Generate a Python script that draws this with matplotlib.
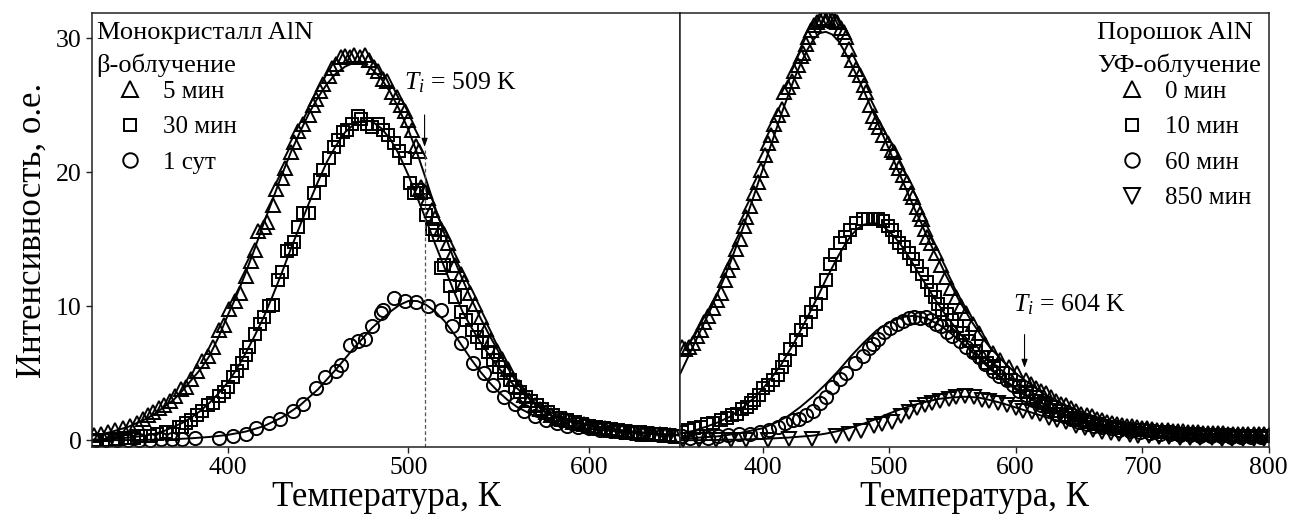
import numpy as np
import matplotlib
matplotlib.use('Agg')
import matplotlib.pyplot as plt

plt.rcParams['font.family'] = ['Liberation Serif', 'DejaVu Serif']
plt.rcParams['mathtext.fontset'] = 'custom'
plt.rcParams['mathtext.rm'] = 'Liberation Serif'
plt.rcParams['mathtext.it'] = 'Liberation Serif:italic'

# ---- Left panel: single crystal AlN, beta irradiation ----
# 5 min (triangles)
t5_T = [326, 330, 334, 338, 342, 346, 350, 353, 356, 359, 362, 365, 368, 371, 374, 377, 380, 383, 386, 389,
        392, 395, 398, 401, 404, 407, 410, 413, 415, 417, 420, 422, 425, 427, 430, 432, 435, 437, 439, 442,
        445, 447, 449, 451, 453, 456, 458, 460, 463, 465, 468, 470, 473, 476, 478, 481, 483, 486, 488, 491,
        494, 496, 498, 500, 502, 504, 506, 507, 509, 511, 513, 515, 518, 520, 522, 524, 526, 529, 531, 534,
        537, 540, 543, 546, 549, 552, 555, 558, 561, 564, 567, 570, 573, 576, 579, 582, 585, 588, 591, 594,
        597, 600, 603, 606, 609, 612, 615, 618, 621, 624, 627, 630, 633, 636, 639, 642, 645, 648]
t5_I = [0.4, 0.5, 0.6, 0.8, 0.9, 1.1, 1.3, 1.6, 1.9, 2.1, 2.4, 2.6, 2.9, 3.3, 3.8, 4.0, 4.6, 5.2, 5.9, 6.3,
        7.0, 8.2, 8.6, 9.8, 10.4, 11.0, 12.3, 13.4, 14.2, 15.6, 15.9, 16.3, 17.6, 18.8, 19.6, 20.3, 21.5, 22.3, 23.1, 23.6,
        24.3, 25.0, 25.5, 26.1, 26.6, 27.2, 27.8, 28.1, 28.6, 28.7, 28.6, 28.8, 28.6, 28.8, 28.4, 27.9, 27.6, 27.0, 26.8, 26.0,
        25.6, 25.0, 24.6, 23.9, 23.2, 22.0, 21.6, 18.9, 18.6, 18.1, 17.2, 16.6, 15.8, 15.4, 14.7, 13.8, 13.1, 12.4, 11.8, 11.0,
        10.2, 9.2, 8.3, 7.5, 6.7, 6.1, 5.3, 4.6, 4.0, 3.4, 3.0, 2.6, 2.3, 2.1, 1.9, 1.7, 1.6, 1.5, 1.4, 1.3,
        1.2, 1.1, 1.0, 0.95, 0.9, 0.8, 0.75, 0.7, 0.65, 0.6, 0.55, 0.5, 0.5, 0.45, 0.45, 0.4, 0.4, 0.35]
t5_fit_T = [325, 330, 335, 340, 345, 350, 355, 360, 365, 370, 375, 380, 385, 390, 395, 400, 405, 410, 415, 420,
            425, 430, 435, 440, 445, 450, 455, 460, 465, 470, 475, 480, 485, 490, 495, 500, 505, 510, 515, 520,
            525, 530, 535, 540, 545, 550, 555, 560, 565, 570, 575, 580, 590, 600, 620, 640, 650]
t5_fit_I = [0.35, 0.45, 0.6, 0.8, 1.0, 1.3, 1.6, 2.0, 2.5, 3.0, 3.7, 4.5, 5.3, 6.3, 7.7, 9.3, 10.8, 12.5, 14.3, 16.2,
            18.0, 19.8, 21.5, 23.0, 24.4, 25.6, 26.6, 27.4, 27.9, 28.2, 28.1, 27.7, 27.0, 26.0, 24.7, 23.2, 21.4, 19.4, 17.3, 15.4,
            13.6, 12.0, 10.5, 9.1, 7.8, 6.6, 5.4, 4.3, 3.4, 2.7, 2.2, 1.8, 1.4, 1.1, 0.7, 0.45, 0.38]

# 30 min (squares)
t30_T = [328, 333, 338, 343, 348, 352, 357, 361, 366, 370, 373, 375, 377, 380, 383, 386, 389, 392, 395, 398,
         400, 403, 405, 408, 410, 412, 415, 418, 420, 423, 425, 428, 430, 433, 435, 437, 439, 442, 445, 448,
         451, 453, 456, 459, 461, 464, 466, 469, 472, 474, 477, 480, 483, 486, 489, 492, 495, 498, 501, 503,
         505, 507, 510, 513, 515, 518, 520, 523, 526, 529, 532, 535, 538, 541, 544, 547, 550, 553, 556, 559,
         562, 565, 568, 571, 574, 577, 580, 584, 588, 592, 596, 600, 604, 608, 612, 616, 620, 624, 628, 632,
         636, 640, 644, 648]
t30_I = [0.05, 0.05, 0.1, 0.15, 0.2, 0.3, 0.3, 0.5, 0.6, 0.5, 1.0, 1.0, 1.3, 1.5, 1.9, 2.2, 2.6, 2.8, 3.3, 3.6,
         4.0, 4.7, 5.2, 5.8, 6.4, 7.0, 7.9, 8.7, 9.2, 10.0, 10.1, 12.0, 12.6, 14.1, 14.3, 14.8, 15.9, 17.0, 17.0, 18.5,
         19.4, 20.2, 21.1, 21.9, 22.4, 23.0, 23.2, 23.6, 24.2, 24.0, 23.6, 23.4, 23.6, 23.2, 22.8, 22.2, 21.6, 21.1, 19.2, 18.5,
         18.7, 18.5, 16.8, 15.8, 15.3, 12.9, 13.1, 11.5, 10.7, 9.6, 9.0, 8.2, 7.7, 7.3, 6.6, 6.0, 5.5, 5.0, 4.5, 4.0,
         3.6, 3.2, 2.9, 2.6, 2.3, 2.1, 1.9, 1.7, 1.5, 1.4, 1.2, 1.1, 1.0, 0.9, 0.85, 0.8, 0.7, 0.65, 0.6, 0.55,
         0.5, 0.45, 0.4, 0.35]
t30_fit_T = [325, 335, 345, 355, 360, 365, 370, 375, 380, 385, 390, 395, 400, 405, 410, 415, 420, 425, 430, 435,
             440, 445, 450, 455, 460, 465, 470, 475, 480, 485, 490, 495, 500, 505, 510, 515, 520, 525, 530, 535,
             540, 545, 550, 555, 560, 565, 570, 575, 580, 590, 600, 620, 640, 650]
t30_fit_I = [0.05, 0.1, 0.2, 0.35, 0.5, 0.7, 1.0, 1.3, 1.7, 2.2, 2.8, 3.5, 4.3, 5.3, 6.5, 7.8, 9.2, 10.8, 12.5, 14.3,
             16.0, 17.7, 19.3, 20.8, 22.0, 23.0, 23.6, 23.9, 23.8, 23.3, 22.5, 21.3, 19.8, 18.1, 16.4, 14.6, 12.9, 11.2, 9.6, 8.4,
             7.3, 6.3, 5.4, 4.6, 3.9, 3.3, 2.8, 2.4, 2.0, 1.5, 1.15, 0.7, 0.45, 0.4]

# 1 day (circles)
t1d_T = [327, 333, 339, 345, 351, 357, 363, 369, 375, 382, 395, 403, 410, 416, 423, 429, 436, 442, 449, 454,
         460, 463, 468, 472, 476, 480, 485, 486, 492, 498, 504, 511, 518, 524, 529, 536, 542, 547, 553, 559,
         564, 570, 576, 582, 588, 594, 600, 606, 612, 618, 624, 630, 636, 642, 648]
t1d_I = [0.0, 0.0, 0.05, 0.05, 0.05, 0.05, 0.1, 0.1, 0.1, 0.15, 0.15, 0.35, 0.5, 0.9, 1.3, 1.6, 2.2, 2.7, 3.9, 4.7,
         5.2, 5.6, 7.1, 7.4, 7.6, 8.5, 9.5, 9.7, 10.6, 10.4, 10.3, 10.0, 9.7, 8.5, 7.3, 5.8, 5.0, 4.1, 3.2, 2.7,
         2.2, 1.8, 1.5, 1.3, 1.1, 1.0, 0.9, 0.8, 0.7, 0.6, 0.55, 0.5, 0.45, 0.4, 0.35]
t1d_fit_T = [325, 350, 370, 380, 390, 400, 410, 420, 430, 440, 450, 460, 470, 480, 490, 495, 500, 505, 510, 515,
             520, 525, 530, 535, 540, 545, 550, 555, 560, 570, 580, 590, 600, 620, 640, 650]
t1d_fit_I = [0.0, 0.02, 0.08, 0.15, 0.25, 0.4, 0.65, 1.05, 1.7, 2.6, 3.8, 5.3, 6.9, 8.4, 9.6, 10.1, 10.4, 10.4, 10.1, 9.6,
             8.9, 8.0, 7.0, 6.0, 5.1, 4.3, 3.6, 3.0, 2.5, 1.8, 1.35, 1.05, 0.85, 0.6, 0.42, 0.37]

# ---- Right panel: AlN powder, UV irradiation ----
# 0 min (triangles)
u0_T = [336, 339, 342, 345, 348, 351, 354, 357, 361, 364, 367, 370, 373, 376, 379, 382, 385, 387, 390, 393,
        396, 399, 402, 404, 407, 409, 412, 415, 417, 420, 423, 425, 428, 430, 432, 434, 436, 438, 441, 443,
        445, 448, 450, 452, 455, 457, 459, 462, 464, 466, 468, 471, 474, 477, 480, 482, 485, 487, 490, 492,
        495, 499, 502, 504, 506, 508, 511, 514, 517, 519, 522, 524, 526, 528, 530, 533, 537, 541, 545, 549,
        553, 557, 561, 566, 571, 576, 582, 588, 595, 601, 608, 612, 616, 620, 624, 628, 632, 636, 640, 644,
        648, 652, 656, 660, 664, 668, 672, 676, 680, 684, 688, 692, 696, 700, 704, 708, 712, 716, 720, 724,
        728, 732, 736, 740, 744, 748, 752, 756, 760, 764, 768, 772, 776, 780, 784, 788, 792, 796, 800]
u0_I = [7.0, 6.8, 7.0, 7.3, 7.8, 8.2, 8.8, 9.3, 9.9, 10.5, 11.0, 12.0, 12.7, 13.3, 14.3, 15.0, 16.0, 16.7, 17.5, 18.5,
        19.3, 20.2, 21.3, 22.2, 22.8, 23.6, 24.3, 24.7, 26.0, 26.4, 26.8, 27.6, 28.0, 28.7, 28.9, 29.6, 30.1, 30.6, 31.0, 31.2,
        31.4, 31.5, 31.4, 31.5, 31.4, 31.3, 31.2, 30.8, 30.5, 30.1, 29.2, 28.4, 27.7, 27.3, 26.5, 26.0, 25.0, 24.2, 23.8, 23.4,
        22.8, 22.2, 21.7, 21.5, 20.8, 20.3, 19.8, 19.3, 18.5, 18.2, 17.4, 16.9, 16.5, 15.8, 15.2, 14.7, 14.0, 13.1, 12.2, 11.4,
        10.7, 10.0, 9.5, 8.7, 8.0, 7.2, 6.5, 6.0, 5.5, 5.0, 4.5, 4.2, 3.9, 3.7, 3.5, 3.2, 2.9, 2.7, 2.6, 2.4,
        2.2, 2.0, 1.9, 1.8, 1.6, 1.5, 1.4, 1.3, 1.2, 1.15, 1.1, 1.05, 1.0, 0.95, 0.9, 0.85, 0.8, 0.78, 0.75, 0.72,
        0.7, 0.68, 0.65, 0.62, 0.6, 0.58, 0.56, 0.55, 0.53, 0.52, 0.5, 0.5, 0.48, 0.47, 0.46, 0.45, 0.45, 0.44, 0.43]
u0_fit_T = [335, 340, 345, 350, 355, 360, 365, 370, 375, 380, 385, 390, 395, 400, 405, 410, 415, 420, 425, 430,
            435, 440, 445, 450, 455, 460, 465, 470, 475, 480, 485, 490, 495, 500, 505, 510, 515, 520, 525, 530,
            535, 540, 545, 550, 555, 560, 565, 570, 575, 580, 590, 600, 610, 620, 630, 640, 650, 660, 670, 680,
            700, 720, 750, 780, 800]
u0_fit_I = [5.0, 6.0, 7.0, 8.0, 9.0, 10.0, 11.1, 12.2, 13.4, 14.7, 16.0, 17.4, 18.8, 20.2, 21.6, 23.0, 24.4, 25.7, 27.0, 28.1,
            29.1, 29.9, 30.4, 30.5, 30.3, 29.8, 29.0, 28.1, 27.1, 26.1, 25.0, 23.9, 22.8, 21.7, 20.6, 19.5, 18.4, 17.3, 16.3, 15.2,
            14.2, 13.3, 12.3, 11.4, 10.5, 9.7, 8.9, 8.2, 7.5, 6.9, 5.9, 5.0, 4.3, 3.6, 3.0, 2.6, 2.2, 1.85, 1.55, 1.3,
            0.95, 0.7, 0.5, 0.38, 0.32]

# 10 min (squares)
u10_T = [336, 341, 346, 351, 356, 361, 367, 372, 376, 380, 384, 388, 391, 393, 397, 400, 404, 408, 412, 415,
         418, 422, 426, 430, 434, 438, 442, 446, 450, 453, 457, 461, 465, 469, 474, 479, 483, 487, 491, 495,
         499, 502, 505, 508, 512, 516, 519, 522, 526, 530, 533, 536, 539, 542, 546, 550, 554, 558, 563, 569,
         573, 577, 583, 590, 596, 603, 609, 616, 622, 628, 634, 640, 646, 652, 658, 664, 670, 676, 682, 688,
         694, 700, 706, 712, 718, 724, 730, 736, 742, 748, 754, 760, 766, 772, 778, 784, 790, 796]
u10_I = [0.6, 0.8, 0.9, 1.0, 1.2, 1.3, 1.5, 1.7, 1.9, 2.0, 2.3, 2.5, 2.8, 3.0, 3.4, 3.9, 4.1, 4.5, 4.9, 5.5,
         6.0, 6.8, 7.5, 8.2, 8.8, 9.6, 10.2, 11.0, 12.0, 13.2, 13.8, 14.7, 15.2, 15.7, 16.2, 16.5, 16.5, 16.5, 16.5, 16.4,
         16.0, 15.7, 15.2, 14.7, 14.4, 14.0, 13.5, 13.0, 12.4, 11.8, 11.2, 10.7, 10.2, 9.7, 9.4, 9.0, 8.5, 8.0, 7.4, 6.7,
         6.2, 5.8, 5.4, 5.0, 4.5, 4.0, 3.6, 3.2, 2.8, 2.5, 2.2, 1.9, 1.7, 1.5, 1.35, 1.2, 1.1, 1.0, 0.9, 0.85,
         0.8, 0.75, 0.7, 0.65, 0.6, 0.55, 0.5, 0.48, 0.45, 0.43, 0.4, 0.38, 0.36, 0.35, 0.34, 0.33, 0.32, 0.31]
u10_fit_T = [335, 345, 355, 365, 375, 385, 395, 405, 415, 425, 435, 445, 450, 455, 460, 465, 470, 475, 480, 485,
             490, 495, 500, 505, 510, 515, 520, 525, 530, 535, 540, 545, 550, 555, 560, 565, 570, 580, 590, 600,
             610, 620, 630, 640, 660, 680, 700, 730, 760, 800]
u10_fit_I = [0.5, 0.7, 1.0, 1.35, 1.8, 2.5, 3.3, 4.4, 5.7, 7.3, 9.1, 11.0, 12.0, 12.9, 13.8, 14.6, 15.3, 15.8, 16.1, 16.2,
             16.2, 16.0, 15.6, 15.1, 14.5, 13.8, 13.0, 12.2, 11.5, 10.7, 10.0, 9.3, 8.7, 8.1, 7.5, 6.9, 6.4, 5.4, 4.6, 3.9,
             3.3, 2.8, 2.3, 1.9, 1.35, 1.0, 0.75, 0.5, 0.38, 0.3]

# 60 min (circles)
u60_T = [336, 343, 350, 357, 365, 373, 381, 390, 398, 405, 412, 418, 424, 429, 434, 440, 445, 450, 455, 461,
         466, 473, 479, 484, 487, 491, 496, 501, 506, 511, 516, 520, 524, 529, 533, 537, 541, 546, 550, 556,
         561, 566, 571, 576, 582, 587, 593, 598, 603, 608, 614, 620, 626, 632, 638, 644, 650, 656, 662, 668,
         675, 682, 690, 698, 706, 714, 722, 730, 738, 746, 754, 762, 770, 778, 786, 794]
u60_I = [0.3, 0.2, 0.3, 0.2, 0.3, 0.4, 0.5, 0.5, 0.6, 0.8, 1.0, 1.3, 1.5, 1.6, 1.9, 2.2, 2.8, 3.2, 4.0, 4.6,
         5.0, 5.8, 6.3, 6.9, 7.2, 7.6, 8.1, 8.4, 8.7, 8.9, 9.1, 9.2, 9.1, 9.2, 9.0, 8.7, 8.5, 8.1, 7.8, 7.4,
         7.0, 6.6, 6.2, 5.7, 5.2, 4.8, 4.5, 4.1, 3.7, 3.4, 3.0, 2.6, 2.3, 2.0, 1.8, 1.6, 1.4, 1.25, 1.1, 1.0,
         0.9, 0.8, 0.7, 0.6, 0.55, 0.5, 0.45, 0.4, 0.37, 0.34, 0.32, 0.3, 0.28, 0.26, 0.25, 0.24]
u60_fit_T = [335, 350, 365, 380, 390, 400, 410, 420, 430, 440, 450, 460, 470, 480, 490, 500, 510, 520, 530, 540,
             550, 560, 570, 580, 590, 600, 610, 620, 630, 640, 660, 680, 700, 730, 760, 800]
u60_fit_I = [0.1, 0.2, 0.3, 0.5, 0.7, 0.9, 1.3, 1.8, 2.5, 3.3, 4.2, 5.2, 6.3, 7.3, 8.2, 8.8, 9.2, 9.3, 9.1, 8.6,
             7.9, 7.1, 6.2, 5.3, 4.5, 3.8, 3.2, 2.6, 2.1, 1.7, 1.2, 0.85, 0.6, 0.4, 0.3, 0.22]

# 850 min (down triangles)
u850_T = [337, 350, 363, 375, 387, 404, 421, 439, 458, 468, 478, 488, 494, 502, 509, 516, 522, 528, 534, 540,
          547, 553, 560, 567, 573, 579, 586, 593, 600, 606, 613, 619, 626, 633, 640, 648, 655, 661, 668, 675,
          682, 690, 697, 705, 713, 721, 730, 738, 746, 755, 763, 771, 780, 788, 796]
u850_I = [0.0, 0.0, 0.0, 0.05, 0.05, 0.05, 0.1, 0.1, 0.3, 0.5, 0.7, 1.1, 1.2, 1.4, 1.8, 2.1, 2.4, 2.6, 2.8, 2.9,
          3.1, 3.2, 3.3, 3.2, 3.0, 2.9, 2.8, 2.6, 2.4, 2.2, 2.1, 2.0, 1.7, 1.5, 1.4, 1.1, 0.9, 0.8, 0.65, 0.55,
          0.5, 0.4, 0.35, 0.3, 0.25, 0.22, 0.2, 0.18, 0.15, 0.14, 0.12, 0.12, 0.1, 0.1, 0.1]
u850_fit_T = [335, 360, 380, 400, 420, 440, 450, 460, 470, 480, 490, 500, 510, 520, 530, 540, 550, 560, 570, 580,
              590, 600, 610, 620, 630, 640, 650, 660, 680, 700, 730, 760, 800]
u850_fit_I = [0.0, 0.02, 0.05, 0.1, 0.2, 0.35, 0.5, 0.7, 0.95, 1.25, 1.6, 2.0, 2.35, 2.65, 2.9, 3.1, 3.2, 3.25, 3.2, 3.0,
              2.75, 2.45, 2.15, 1.85, 1.55, 1.3, 1.05, 0.85, 0.55, 0.4, 0.25, 0.17, 0.12]

fig, (ax1, ax2) = plt.subplots(1, 2, sharey=True, figsize=(12.92, 5.22), dpi=100)
fig.subplots_adjust(left=0.0712, right=0.982, bottom=0.1437, top=0.975, wspace=0)

mk = dict(linestyle='none', markerfacecolor='none', markeredgecolor='black', markeredgewidth=1.4)

# left panel
ax1.plot(t5_fit_T, t5_fit_I, color='black', lw=1.4)
ax1.plot(t30_fit_T, t30_fit_I, color='black', lw=1.4)
ax1.plot(t1d_fit_T, t1d_fit_I, color='black', lw=1.4)
h1, = ax1.plot(t5_T, t5_I, marker='^', ms=10, label='5 мин', **mk)
h2, = ax1.plot(t30_T, t30_I, marker='s', ms=8.5, label='30 мин', **mk)
h3, = ax1.plot(t1d_T, t1d_I, marker='o', ms=9.5, label='1 сут', **mk)

# right panel
ax2.plot(u0_fit_T, u0_fit_I, color='black', lw=1.4)
ax2.plot(u10_fit_T, u10_fit_I, color='black', lw=1.4)
ax2.plot(u60_fit_T, u60_fit_I, color='black', lw=1.4)
ax2.plot(u850_fit_T, u850_fit_I, color='black', lw=1.4)
g1, = ax2.plot(u0_T, u0_I, marker='^', ms=10, label='0 мин', **mk)
g2, = ax2.plot(u10_T, u10_I, marker='s', ms=8.5, label='10 мин', **mk)
g3, = ax2.plot(u60_T, u60_I, marker='o', ms=9.5, label='60 мин', **mk)
g4, = ax2.plot(u850_T, u850_I, marker='v', ms=10, label='850 мин', **mk)

ax1.set_xlim(325, 650.5)
ax2.set_xlim(335, 800)
ax1.set_ylim(-0.5, 31.9)
ax1.set_xticks([400, 500, 600])
ax2.set_xticks([400, 500, 600, 700, 800])
ax1.set_yticks([0, 10, 20, 30])

for ax in (ax1, ax2):
    for s in ax.spines.values():
        s.set_linewidth(1.1)
        s.set_color('#222222')
    ax.tick_params(direction='out', length=4, width=1, labelsize=18.5, color='#222222')
    ax.set_xlabel('Температура, К', fontsize=25, labelpad=1)
ax2.tick_params(axis='y', left=False, labelleft=False)
ax1.set_ylabel('Интенсивность, о.е.', fontsize=25, labelpad=5)

# headers and legends
ax1.text(0.008, 0.954, 'Монокристалл AlN', transform=ax1.transAxes, fontsize=19, va='center', ha='left')
ax1.text(0.008, 0.880, 'β-облучение', transform=ax1.transAxes, fontsize=19, va='center', ha='left')
ax1.legend(handles=[h1, h2, h3], loc='upper left', bbox_to_anchor=(0.045, 0.845), frameon=False,
           fontsize=18, handlelength=0.95, handletextpad=0.85, labelspacing=0.52, borderpad=0, borderaxespad=0,
           markerscale=1.1)

ax2.text(0.7075, 0.954, 'Порошок AlN', transform=ax2.transAxes, fontsize=19, va='center', ha='left')
ax2.text(0.7075, 0.880, 'УФ-облучение', transform=ax2.transAxes, fontsize=19, va='center', ha='left')
ax2.legend(handles=[g1, g2, g3, g4], loc='upper left', bbox_to_anchor=(0.748, 0.845), frameon=False,
           fontsize=18, handlelength=0.95, handletextpad=0.85, labelspacing=0.52, borderpad=0, borderaxespad=0,
           markerscale=1.1)

# T_i markers
ax1.plot([509, 509], [-0.5, 21.7], color='#555555', lw=0.9, ls=(0, (3, 2)))
ax1.annotate('', xy=(509, 21.7), xytext=(509, 24.5),
             arrowprops=dict(arrowstyle='-|>,head_length=0.5,head_width=0.18', color='black', lw=0.8))
ax1.text(497.8, 26.7, r'$T_i$ = 509 K', fontsize=18.5, va='center', ha='left')

ax2.annotate('', xy=(607, 5.2), xytext=(607, 8.1),
             arrowprops=dict(arrowstyle='-|>,head_length=0.5,head_width=0.18', color='black', lw=0.8))
ax2.text(597.5, 10.1, r'$T_i$ = 604 K', fontsize=18.5, va='center', ha='left')

plt.savefig('out.png', dpi=100)
